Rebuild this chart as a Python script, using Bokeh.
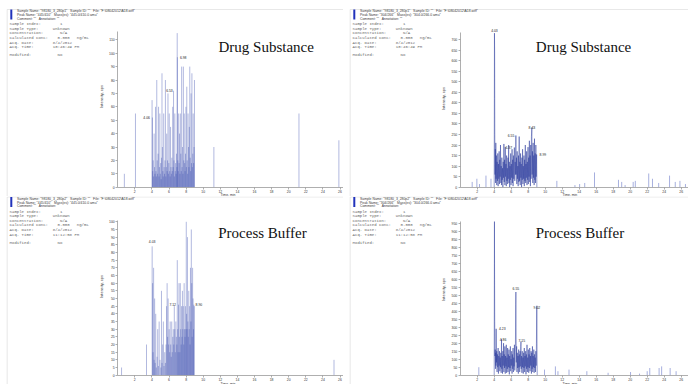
import math
from bokeh.plotting import figure
from bokeh.models import ColumnDataSource, Range1d, LinearAxis, FixedTicker, Label, BoxAnnotation
from bokeh.layouts import row, column
from bokeh.embed import file_html
from bokeh.resources import INLINE

# ---------------- data ----------------
X_TICKS = [2, 4, 6, 8, 10, 12, 14, 16, 18, 20, 22, 24, 26]
TL_Y_TICKS = list(range(0, 111, 10))
TR_Y_TICKS = list(range(0, 701, 50))
BL_Y_TICKS = list(range(0, 101, 5))
BR_Y_TICKS = list(range(0, 951, 50))

# Top-left: 445/410, Drug Substance (stick spectrum)
TL_time = [0.78, 2.08, 4.02, 4.06, 4.10, 4.15, 4.20, 4.26, 4.31, 4.36,
           4.42, 4.47, 4.52, 4.57, 4.62, 4.67, 4.72, 4.78, 4.83, 4.88,
           4.93, 4.98, 5.03, 5.08, 5.13, 5.18, 5.23, 5.28, 5.33, 5.38,
           5.43, 5.48, 5.53, 5.58, 5.63, 5.68, 5.73, 5.78, 5.83, 5.88,
           5.93, 5.98, 6.03, 6.08, 6.13, 6.18, 6.23, 6.28, 6.33, 6.38,
           6.43, 6.48, 6.53, 6.58, 6.63, 6.68, 6.73, 6.78, 6.83, 6.88,
           6.93, 6.96, 6.98, 7.03, 7.08, 7.13, 7.18, 7.23, 7.28, 7.33,
           7.38, 7.43, 7.48, 7.53, 7.58, 7.63, 7.68, 7.73, 7.78, 7.83,
           7.88, 7.93, 7.98, 8.03, 8.08, 8.13, 8.18, 8.23, 8.28, 8.33,
           8.38, 8.43, 8.48, 8.53, 8.58, 8.63, 8.68, 8.73, 8.78, 8.83,
           8.88, 8.93, 8.98, 11.25, 21.20, 25.87]
TL_int = [10, 55, 65, 52, 12, 20, 8, 40, 15, 10,
          60, 12, 8, 80, 20, 10, 25, 60, 8, 15,
          55, 10, 18, 6, 22, 85, 30, 12, 8, 55,
          15, 10, 20, 80, 8, 15, 40, 12, 20, 70,
          10, 18, 55, 12, 8, 45, 15, 10, 22, 12,
          60, 15, 72, 20, 8, 55, 12, 18, 10, 25,
          15, 115, 97, 20, 12, 55, 18, 40, 10, 55,
          25, 12, 90, 15, 30, 10, 90, 20, 55, 18,
          12, 25, 60, 15, 75, 20, 10, 55, 30, 15,
          45, 90, 22, 12, 70, 18, 85, 15, 25, 55,
          18, 30, 80, 30, 55, 35]
TL_peak_t = [4.06, 6.53, 6.98]
TL_peak_v = [52, 72, 97]

# Top-right: 304/266, Drug Substance (trace)
TR_trace_t = [4.00, 4.02, 4.03, 4.05, 4.07, 4.10, 4.13, 4.16, 4.19, 4.22,
              4.26, 4.30, 4.34, 4.38, 4.42, 4.46, 4.50, 4.54, 4.58, 4.62,
              4.66, 4.70, 4.74, 4.78, 4.82, 4.86, 4.90, 4.94, 4.98, 5.02,
              5.06, 5.10, 5.14, 5.18, 5.22, 5.26, 5.30, 5.34, 5.38, 5.42,
              5.46, 5.50, 5.54, 5.58, 5.62, 5.66, 5.70, 5.74, 5.78, 5.82,
              5.86, 5.90, 5.94, 5.98, 6.02, 6.06, 6.10, 6.14, 6.18, 6.22,
              6.26, 6.30, 6.34, 6.37, 6.42, 6.46, 6.50, 6.55, 6.58, 6.62,
              6.66, 6.70, 6.74, 6.78, 6.82, 6.86, 6.90, 6.94, 6.98, 7.02,
              7.06, 7.10, 7.14, 7.18, 7.22, 7.26, 7.30, 7.34, 7.38, 7.42,
              7.46, 7.50, 7.54, 7.58, 7.62, 7.66, 7.70, 7.74, 7.78, 7.82,
              7.86, 7.90, 7.94, 7.98, 8.02, 8.06, 8.10, 8.14, 8.18, 8.22,
              8.26, 8.30, 8.34, 8.38, 8.43, 8.46, 8.50, 8.54, 8.58, 8.62,
              8.66, 8.70, 8.74, 8.78, 8.82, 8.86, 8.90, 8.94, 8.99, 9.02]
TR_trace_v = [0, 420, 730, 640, 250, 60, 180, 20, 210, 40,
              150, 10, 120, 30, 160, 5, 110, 40, 170, 15,
              130, 50, 200, 20, 100, 10, 140, 35, 90, 0,
              120, 45, 205, 25, 130, 10, 190, 50, 110, 5,
              150, 30, 90, 15, 140, 40, 200, 20, 120, 0,
              100, 35, 160, 10, 110, 45, 180, 20, 130, 5,
              150, 40, 120, 188, 30, 120, 60, 245, 60, 140,
              15, 170, 40, 100, 5, 150, 25, 240, 30, 120,
              10, 160, 45, 110, 0, 140, 35, 180, 15, 100,
              40, 150, 5, 130, 30, 200, 20, 110, 45, 170,
              10, 120, 35, 190, 15, 140, 50, 220, 25, 150,
              5, 200, 40, 240, 283, 60, 170, 20, 210, 45,
              150, 10, 230, 35, 160, 20, 200, 50, 155, 0]
TR_spike_t = [1.41, 1.96, 2.27, 3.03, 3.62, 11.37, 13.50, 14.05, 14.65, 15.80, 18.62,
              19.00, 19.40, 20.35, 20.60, 22.18, 22.62, 23.35, 24.63, 25.30, 25.85, 26.50]
TR_spike_v = [25, 40, 15, 55, 40, 30, 10, 15, 20, 70, 35,
              25, 10, 25, 30, 65, 40, 20, 55, 25, 30, 15]
TR_peak_t = [4.03, 6.55, 6.37, 8.43, 8.99]
TR_peak_v = [743, 245, 190, 284, 155]

# Bottom-left: 445/410, Process Buffer (stick spectrum)
BL_time = [0.45, 3.37, 4.03, 4.08, 4.14, 4.20, 4.26, 4.32, 4.38, 4.45,
           4.52, 4.60, 4.68, 4.76, 4.85, 4.95, 5.05, 5.12, 5.18, 5.26,
           5.34, 5.42, 5.50, 5.58, 5.65, 5.72, 5.78, 5.84, 5.90, 5.96,
           6.02, 6.08, 6.14, 6.20, 6.26, 6.32, 6.38, 6.44, 6.50, 6.56,
           6.62, 6.68, 6.74, 6.80, 6.86, 6.92, 6.97, 7.02, 7.07, 7.12,
           7.17, 7.22, 7.27, 7.32, 7.37, 7.42, 7.47, 7.52, 7.57, 7.62,
           7.67, 7.72, 7.77, 7.82, 7.87, 7.92, 7.97, 8.02, 8.06, 8.11,
           8.16, 8.21, 8.26, 8.31, 8.36, 8.41, 8.46, 8.51, 8.56, 8.61,
           8.66, 8.71, 8.76, 8.81, 8.86, 8.90, 8.95, 25.30]
BL_int = [5, 20, 84, 60, 15, 70, 10, 50, 8, 40,
          5, 12, 30, 6, 35, 10, 5, 55, 8, 20,
          35, 6, 15, 8, 20, 45, 60, 25, 50, 20,
          30, 15, 35, 20, 12, 35, 15, 25, 30, 20,
          45, 30, 15, 35, 25, 20, 75, 30, 15, 46,
          60, 25, 15, 60, 30, 20, 45, 25, 55, 30,
          45, 20, 60, 30, 25, 45, 30, 100, 40, 30,
          90, 35, 25, 55, 30, 45, 20, 70, 35, 95,
          60, 25, 70, 50, 30, 46, 45, 10]
BL_peak_t = [4.03, 7.12, 8.90]
BL_peak_v = [87, 46, 46]

# Bottom-right: 304/266, Process Buffer (trace)
BR_trace_t = [4.00, 4.02, 4.03, 4.04, 4.06, 4.09, 4.12, 4.15, 4.18, 4.21,
              4.23, 4.26, 4.30, 4.34, 4.38, 4.42, 4.46, 4.50, 4.54, 4.58,
              4.62, 4.66, 4.70, 4.74, 4.78, 4.82, 4.86, 4.90, 4.94, 4.98,
              5.02, 5.06, 5.10, 5.14, 5.18, 5.22, 5.26, 5.30, 5.34, 5.38,
              5.42, 5.46, 5.50, 5.54, 5.58, 5.62, 5.66, 5.70, 5.74, 5.78,
              5.82, 5.86, 5.90, 5.94, 5.98, 6.02, 6.06, 6.10, 6.14, 6.18,
              6.22, 6.26, 6.30, 6.34, 6.38, 6.42, 6.46, 6.50, 6.53, 6.55,
              6.57, 6.60, 6.64, 6.68, 6.72, 6.76, 6.80, 6.84, 6.88, 6.92,
              6.96, 7.00, 7.04, 7.08, 7.12, 7.15, 7.18, 7.22, 7.26, 7.30,
              7.34, 7.38, 7.42, 7.46, 7.50, 7.54, 7.58, 7.62, 7.66, 7.70,
              7.74, 7.78, 7.82, 7.86, 7.90, 7.94, 7.98, 8.02, 8.06, 8.10,
              8.14, 8.18, 8.22, 8.26, 8.30, 8.34, 8.38, 8.42, 8.46, 8.50,
              8.54, 8.58, 8.62, 8.66, 8.70, 8.74, 8.78, 8.82, 8.86, 8.90,
              8.94, 8.97, 9.00, 9.02, 9.04, 9.06]
BR_trace_v = [0, 600, 960, 700, 335, 120, 160, 40, 140, 60,
              290, 80, 150, 20, 130, 50, 170, 10, 120, 60,
              150, 25, 110, 50, 140, 15, 225, 40, 120, 10,
              150, 60, 200, 20, 130, 45, 180, 10, 120, 55,
              190, 15, 110, 40, 170, 20, 130, 50, 160, 5,
              120, 45, 180, 25, 100, 60, 150, 10, 130, 40,
              170, 20, 110, 55, 190, 30, 140, 200, 440, 520,
              300, 80, 180, 20, 140, 45, 120, 10, 160, 50,
              130, 20, 150, 55, 180, 210, 40, 120, 15, 150,
              50, 110, 10, 140, 45, 170, 20, 120, 55, 150,
              5, 130, 40, 190, 20, 110, 50, 160, 15, 130,
              45, 170, 25, 120, 60, 150, 10, 140, 40, 180,
              20, 120, 50, 160, 15, 130, 45, 110, 20, 150,
              60, 200, 430, 434, 120, 0]
BR_spike_t = [2.19, 9.92, 11.20, 11.50, 12.80, 14.90, 17.40, 20.04, 21.10, 22.00,
              22.30, 23.40, 23.70, 24.70, 25.40]
BR_spike_v = [50, 35, 55, 25, 35, 25, 15, 20, 10, 25,
              45, 45, 55, 45, 25]
BR_peak_t = [4.23, 4.86, 6.55, 7.15, 9.02]
BR_peak_v = [292, 225, 542, 219, 423]

TITLES = ["Drug Substance", "Drug Substance", "Process Buffer", "Process Buffer"]
SAMPLE_NAMES = ["98180_3_280p1", "98180_3_280p1", "98180_3_280p2", "98180_3_280p2"]
PEAK_NAMES = ["445/410", "304/266", "445/410", "304/266"]
MASSES = ["445.0/410.0 amu", "304.0/266.0 amu", "445.0/410.0 amu", "304.0/266.0 amu"]
ACQ_DATES = ["8/4/2012", "8/4/2012", "8/4/2012", "8/4/2012"]
ACQ_TIMES = ["10:46:49 PM", "10:46:49 PM", "11:12:58 PM", "11:12:58 PM"]
FILE_NAME = "F:\\08042012\\A18.wiff"

# ---------------- style ----------------
SANS = "Liberation Sans"
MONO = "Liberation Mono"
SERIF = "Liberation Serif"
NB = "\u00a0"
AX_COL = "#9a9a9a"
STICK_COL = "#3344aa"
TRACE_COL = "#2e3e9e"


def screen_label(p, x, y_top, text, **kw):
    H = p.height
    opts = dict(x=x, y=H - y_top, x_units="screen", y_units="screen", text=text,
                text_font=SANS, text_font_size="3.4px", text_color="#444444",
                text_baseline="middle", text_align="left")
    opts.update(kw)
    p.add_layout(Label(**opts))


def make_panel(idx, geo, yticks, ytop, sticks=None, trace=None, spikes=None,
               peaks=None, peak_style=None, title_pos=None, border_top=9.0,
               xlabel_y=194.0, ylabel_y=97.0):
    W, H, x0, xs, y0, ys = geo
    p = figure(width=W, height=H,
               x_range=Range1d(-x0 / xs, (W - x0) / xs),
               y_range=Range1d(-(H - y0) / ys, y0 / ys),
               x_axis_type=None, y_axis_type=None,
               toolbar_location=None, output_backend="svg",
               min_border=0, min_border_left=0, min_border_right=0,
               min_border_top=0, min_border_bottom=0,
               outline_line_color=None, background_fill_color="white",
               border_fill_color="white")

    # axes
    xend = (W - x0) / xs
    xa = LinearAxis(fixed_location=0, bounds=(0, xend),
                    ticker=FixedTicker(ticks=X_TICKS, minor_ticks=[]))
    ya = LinearAxis(fixed_location=0, bounds=(0, ytop),
                    ticker=FixedTicker(ticks=yticks, minor_ticks=[]))
    for ax in (xa, ya):
        ax.axis_line_color = AX_COL
        ax.axis_line_width = 0.8
        ax.major_tick_line_color = AX_COL
        ax.major_tick_line_width = 0.8
        ax.major_tick_out = 2
        ax.major_tick_in = 0
        ax.minor_tick_line_color = None
        ax.major_label_text_font = SANS
        ax.major_label_text_font_size = "3.4px"
        ax.major_label_text_color = "#333333"
        ax.major_label_standoff = 1
    p.add_layout(xa, "below")
    p.add_layout(ya, "left")

    # data
    if sticks is not None:
        src = ColumnDataSource(dict(t=sticks[0], v=sticks[1], z=[0] * len(sticks[0])))
        p.segment(x0="t", y0="z", x1="t", y1="v", source=src,
                  line_color=STICK_COL, line_alpha=0.5, line_width=0.75)
    if spikes is not None:
        src = ColumnDataSource(dict(t=spikes[0], v=spikes[1], z=[0] * len(spikes[0])))
        p.segment(x0="t", y0="z", x1="t", y1="v", source=src,
                  line_color="#6a78c8", line_alpha=0.75, line_width=0.8)
    if trace is not None:
        src = ColumnDataSource(dict(t=trace[0], v=trace[1]))
        p.line(x="t", y="v", source=src, line_color=TRACE_COL,
               line_alpha=0.85, line_width=0.6)

    # peak labels
    if peaks is not None:
        for t, v, (align, off) in zip(peaks[0], peaks[1], peak_style):
            p.add_layout(Label(x=t, y=v, x_offset=off, text=f"{t:.2f}",
                               text_font=SANS, text_font_size="3.4px",
                               text_color="#222222", text_align=align,
                               text_baseline="middle"))

    # axis titles
    p.add_layout(Label(x=12.9, y=H - xlabel_y, x_units="data", y_units="screen",
                       text="Time, min", text_font=SANS, text_font_size="3.4px",
                       text_color="#333333", text_align="center", text_baseline="middle"))
    screen_label(p, x0 - 16.3, ylabel_y, "Intensity, cps", angle=math.pi / 2,
                 text_align="center", text_font_size="4px", text_color="#333333")

    # title
    tx, tb = title_pos
    screen_label(p, tx, tb, TITLES[idx], text_font=SERIF, text_font_size="15px",
                 text_color="#111111", text_align="center", text_baseline="alphabetic")

    # frame border and marker
    bt = border_top
    p.add_layout(BoxAnnotation(left=6.7, right=W + 10, top=H - bt, bottom=-10,
                               left_units="screen", right_units="screen",
                               top_units="screen", bottom_units="screen",
                               fill_color=None, line_color="#b4b4b4", line_width=1))
    p.add_layout(BoxAnnotation(left=9.8, right=11.8, top=H - bt, bottom=H - bt - 10,
                               left_units="screen", right_units="screen",
                               top_units="screen", bottom_units="screen",
                               fill_color="#2233bb", fill_alpha=1.0, line_color=None))

    # header
    line1 = (f'Sample Name: "{SAMPLE_NAMES[idx]}"{NB*3}Sample ID: ""{NB*3}'
             f'File: "{FILE_NAME}"')
    line2 = f'Peak Name: "{PEAK_NAMES[idx]}"{NB*3}Mass(es): "{MASSES[idx]}"'
    line3 = f'Comment: ""{NB*3}Annotation: ""'
    for txt, dy in zip([line1, line2, line3], [1.9, 5.6, 9.4]):
        screen_label(p, 16.5, bt + dy, txt, text_color="#3a3a3a")

    cw = 2.4
    mono_rows = [("Sample Index:", [("1", 21)], 14.5),
                 ("Sample Type:", [("Unknown", 18)], 19.1),
                 ("Concentration:", [("N/A", 21)], 23.6),
                 ("Calculated Conc:", [("0.000", 20), ("ng/mL", 28)], 28.3),
                 ("Acq. Date:", [(ACQ_DATES[idx], 18)], 33.0),
                 ("Acq. Time:", [(ACQ_TIMES[idx], 18)], 37.5),
                 ("Modified:", [("No", 20)], 45.8)]
    for key, vals, dy in mono_rows:
        screen_label(p, 9.1, bt + dy, key, text_font=MONO, text_font_size="4px",
                     text_color="#666666")
        for vtxt, col in vals:
            screen_label(p, 9.1 + col * cw, bt + dy, vtxt, text_font=MONO,
                         text_font_size="4px", text_color="#666666")
    return p


tl = make_panel(0, (343, 196, 117.2, 8.55, 186.7, 1.34), TL_Y_TICKS, 116,
                sticks=(TL_time, TL_int),
                peaks=(TL_peak_t, TL_peak_v),
                peak_style=[("right", -2.5), ("right", -0.8), ("left", 2.5)],
                title_pos=(265.7, 46.7), border_top=9.0, xlabel_y=194.0, ylabel_y=96.0)
tr = make_panel(1, (345, 196, 116.7, 8.5, 186.7, 0.211), TR_Y_TICKS, 735,
                trace=(TR_trace_t, TR_trace_v), spikes=(TR_spike_t, TR_spike_v),
                peaks=(TR_peak_t, TR_peak_v),
                peak_style=[("center", 0), ("right", -1.5), ("right", -2.3),
                            ("center", 0), ("left", 3)],
                title_pos=(240.0, 46.7), border_top=9.0, xlabel_y=194.0, ylabel_y=98.0)
bl = make_panel(2, (343, 188, 117.2, 8.55, 178.7, 1.534), BL_Y_TICKS, 101,
                sticks=(BL_time, BL_int),
                peaks=(BL_peak_t, BL_peak_v),
                peak_style=[("center", 0), ("right", -2.6), ("left", 1.8)],
                title_pos=(262.0, 36.0), border_top=0.5, xlabel_y=187.0, ylabel_y=90.0)
br = make_panel(3, (345, 188, 116.7, 8.5, 178.7, 0.16), BR_Y_TICKS, 960,
                trace=(BR_trace_t, BR_trace_v), spikes=(BR_spike_t, BR_spike_v),
                peaks=(BR_peak_t, BR_peak_v),
                peak_style=[("left", 2.8), ("center", 1.5), ("center", 0),
                            ("center", 0.8), ("center", 0)],
                title_pos=(236.5, 36.0), border_top=0.5, xlabel_y=187.0, ylabel_y=93.0)

layout = column(row(tl, tr), row(bl, br))
open("out.html", "w").write(file_html(layout, INLINE))
